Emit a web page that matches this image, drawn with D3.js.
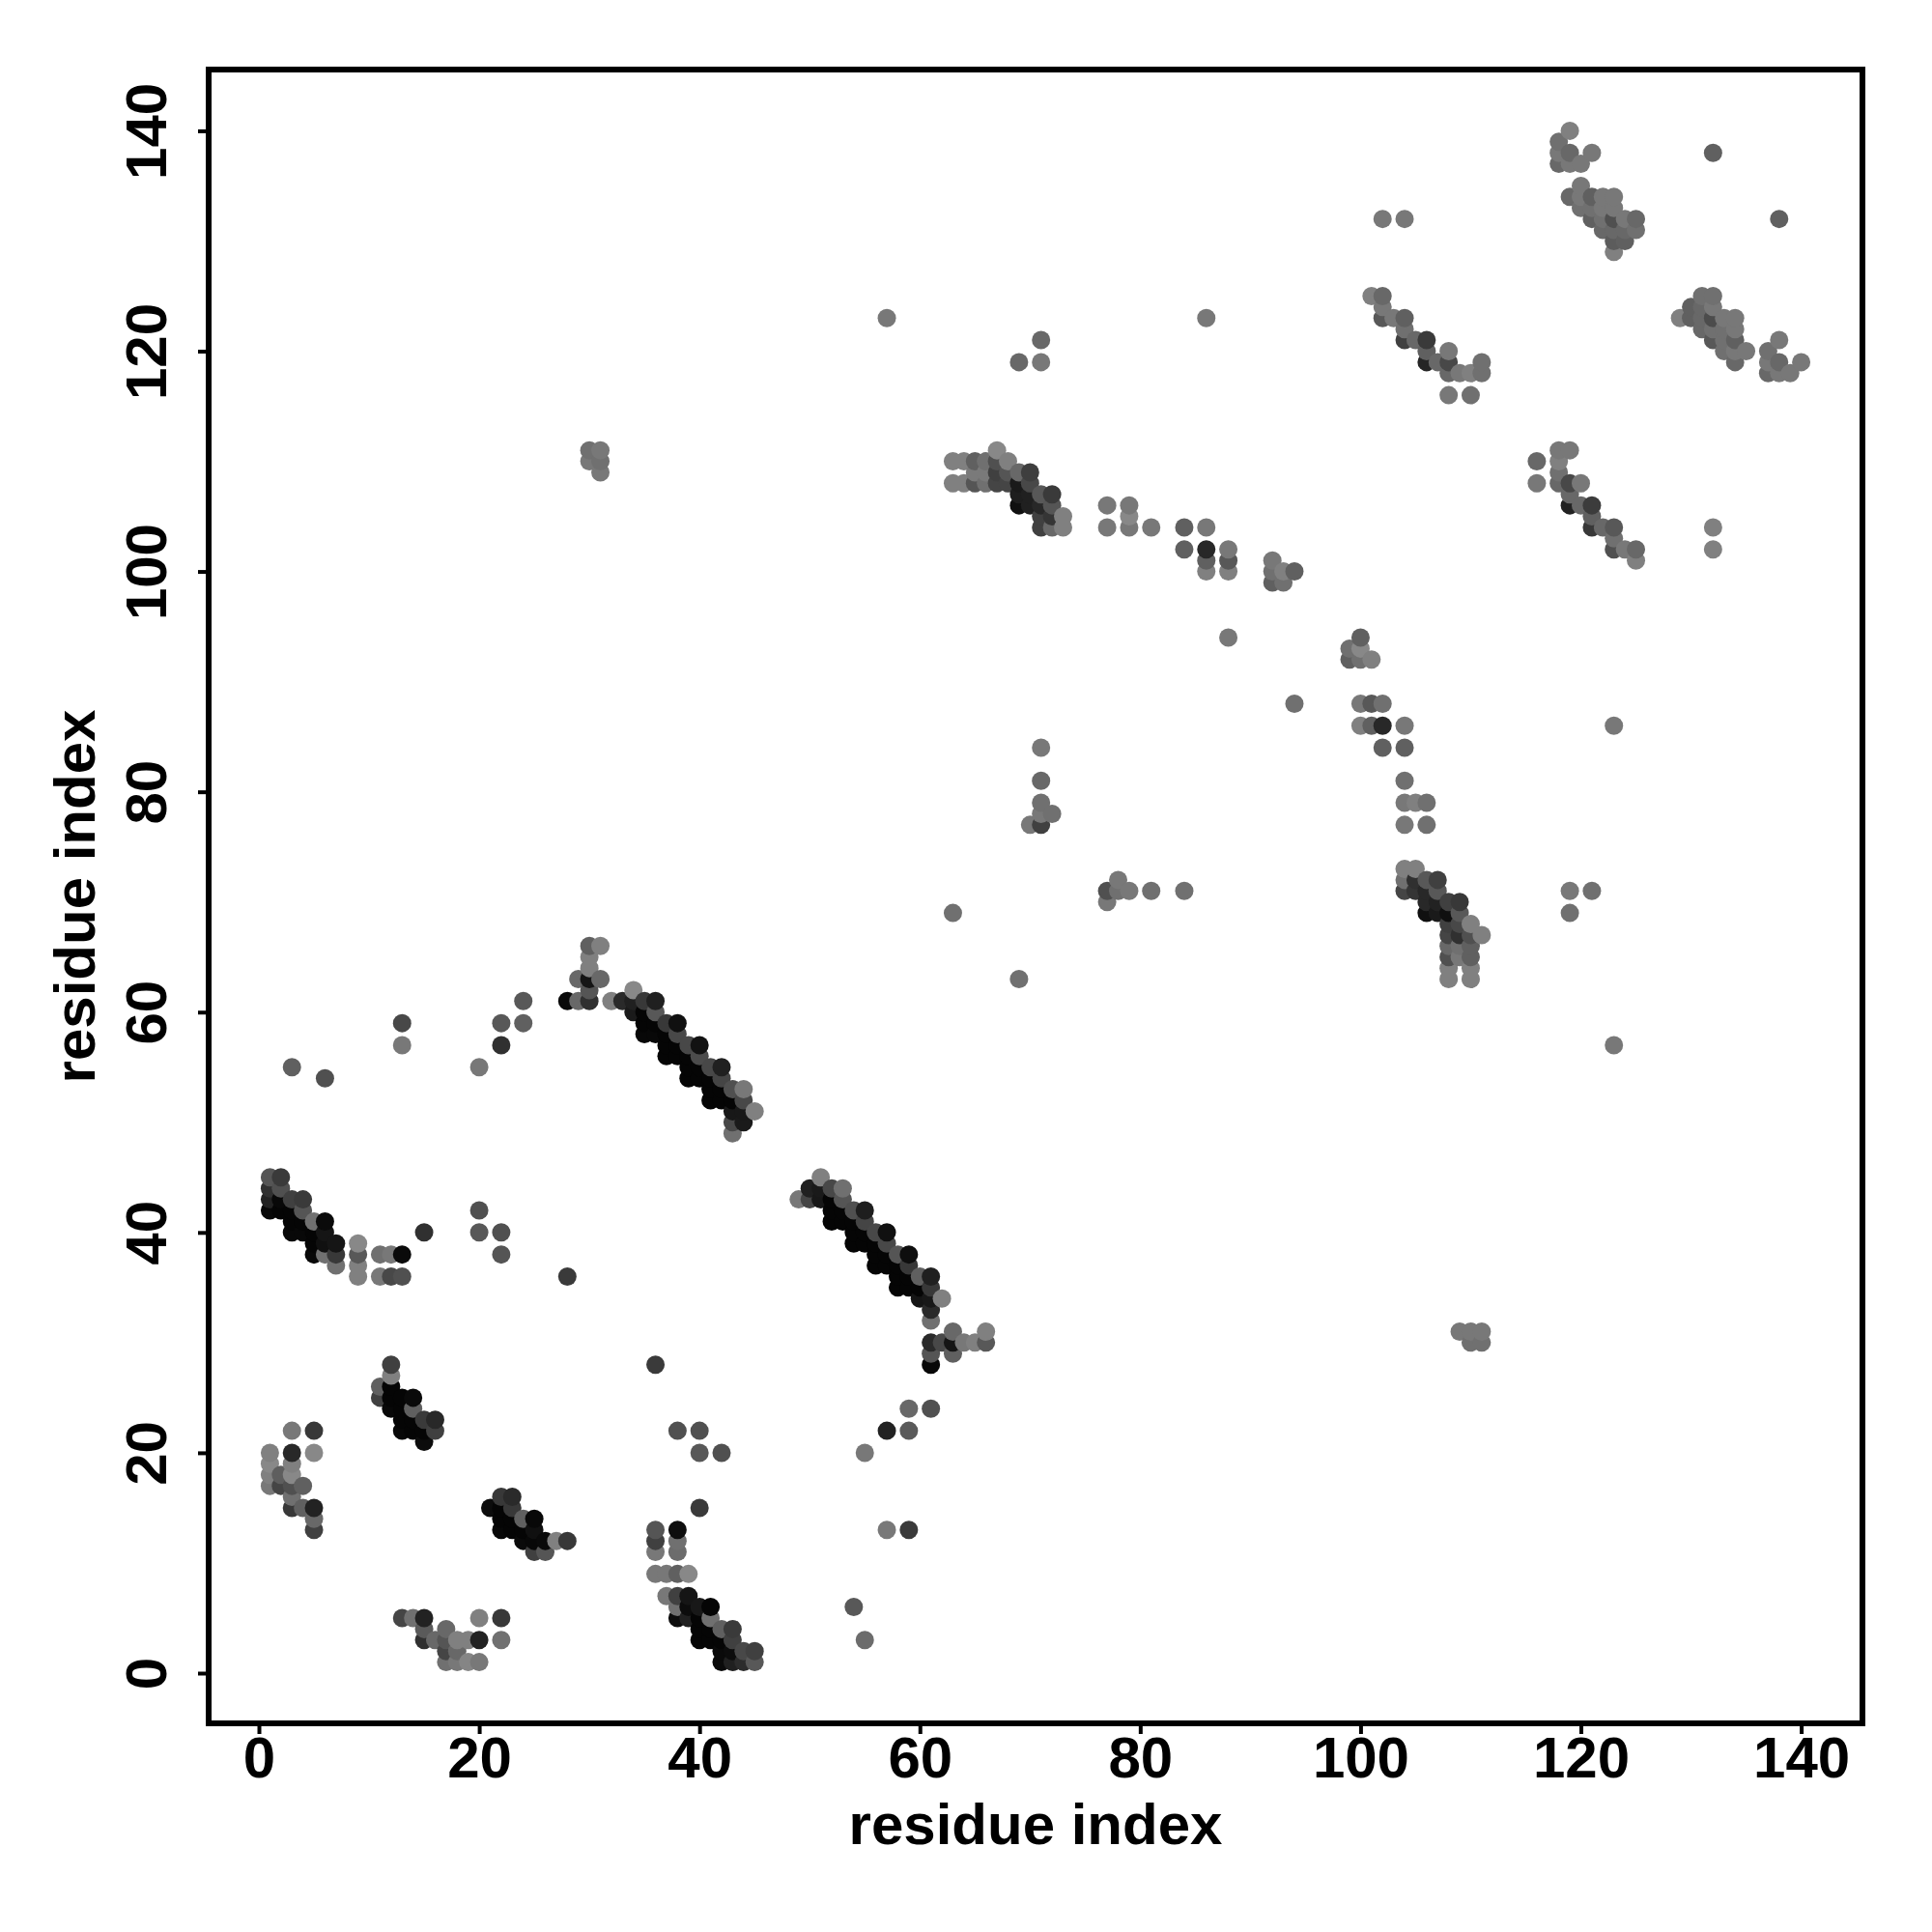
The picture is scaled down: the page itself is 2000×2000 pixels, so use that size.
<!DOCTYPE html>
<html><head><meta charset="utf-8">
<script src="https://cdn.jsdelivr.net/npm/d3@7"></script>
<style>html,body{margin:0;padding:0;background:#fff}svg{display:block}</style>
</head><body><svg id="c" width="2000" height="2000"></svg>
<script>
// each contact: [residue i, residue j, shade (0 = black, 255 = white)]
const helixA=[[1,45,0x55],[2,45,0x3a],[1,44,0x30],[1,43,0x22],[1,42,0x08],[2,44,0x50],[2,43,0x08],[2,42,0x05],[3,43,0x40],[3,42,5],[3,41,5],[3,40,8],[4,43,0x3a],[4,42,0x55],[4,41,5],[4,40,8],[5,41,0x70],[5,40,5],[5,39,5],[5,38,8],[6,41,0x0a],[6,40,0x15],[6,39,0x10],[6,38,0x70],[7,39,0x15],[7,38,0x38],[7,37,0x70]];
const patchA=[[9,39,0x88],[9,38,0x58],[9,37,0x80],[9,36,0x80],[11,38,0x70],[11,36,0x78],[12,38,0x78],[12,36,0x48],[13,38,0x0a],[13,36,0x50],[15,40,0x30],[20,42,0x50],[20,40,0x58],[22,40,0x50],[22,38,0x55],[28,36,0x3a]];
const helixB=[[12,28,0x40],[12,27,0x80],[11,26,0x60],[11,25,0x40],[12,26,5],[12,25,5],[12,24,8],[13,25,5],[13,24,5],[13,23,5],[13,22,8],[14,25,0x0a],[14,24,0x60],[14,23,5],[14,22,5],[15,23,0x3a],[15,22,5],[15,21,0x0c],[16,23,0x28],[16,22,0x40]];
const patchC=[[3,22,0x78],[5,22,0x38],[1,20,0x80],[3,20,0x28],[5,20,0x88],[1,19,0x88],[1,18,0x80],[1,17,0x78],[2,18,0x5e],[2,17,0x45],[3,19,0x80],[3,18,0x88],[3,17,0x50],[3,16,0x70],[3,15,0x38],[4,17,0x60],[4,15,0x60],[5,15,0x22],[5,14,0x68],[5,13,0x40]];
const helixD=[[21,15,0x0c],[22,16,0x38],[23,16,0x2a],[22,15,5],[22,14,5],[22,13,8],[23,15,0x38],[23,14,5],[23,13,5],[24,14,0x60],[24,13,5],[24,12,0x0a],[25,14,8],[25,13,0x10],[25,12,8],[25,11,0x40],[26,12,0x0a],[26,11,0x55],[27,12,0x80],[28,12,0x38]];
const patchE=[[13,5,0x45],[14,5,0x70],[15,5,0x22],[15,4,0x5a],[15,3,0x30],[16,3,0x68],[17,4,0x68],[17,3,0x55],[17,2,0x45],[17,1,0x70],[18,3,0x80],[18,2,0x68],[18,1,0x78],[19,3,0x80],[19,1,0x85],[20,5,0x80],[20,3,0x22],[20,1,0x78],[22,5,0x38],[22,3,0x70]];
const patchF=[[36,28,0x3a],[38,22,0x50],[40,22,0x50],[40,20,0x58],[42,20,0x50],[40,15,0x3a],[36,13,0x55],[36,12,0x40],[36,11,0x78],[38,13,0x0e],[38,12,0x70],[38,11,0x6c],[36,9,0x78],[37,9,0x78],[38,9,0x60],[39,9,0x88],[54,6,0x58],[55,3,0x6c],[55,20,0x78],[57,22,0x22],[59,22,0x5a],[59,24,0x68],[61,24,0x50],[57,13,0x78],[59,13,0x3a]];
const helixG=[[37,7,0x78],[38,7,0x40],[39,7,0x15],[38,6,0x70],[39,6,0x0c],[40,6,0x18],[41,6,5],[38,5,0x0c],[39,5,0x20],[40,5,5],[41,5,0x70],[40,4,5],[41,4,5],[42,4,0x60],[43,4,0x3a],[40,3,5],[41,3,5],[42,3,5],[43,3,0x40],[42,2,0x0a],[43,2,0x0c],[44,2,0x48],[45,2,0x40],[42,1,0x0a],[43,1,0x20],[44,1,0x2c],[45,1,0x58]];
const patchH=[[28,61,0x0a],[29,61,0x68],[30,61,0x30],[29,63,0x68],[30,63,0x15],[31,63,0x68],[30,62,0x55],[30,64,0x80],[30,65,0x80],[30,66,0x60],[31,66,0x80],[3,55,0x60],[6,54,0x50],[13,59,0x48],[13,57,0x78],[20,55,0x78],[22,59,0x58],[22,57,0x30],[24,61,0x58],[24,59,0x60]];
const helixI=[[32,61,0x80],[33,61,0x2a],[34,62,0x88],[34,61,0x20],[35,61,0x38],[36,61,0x20],[34,60,0x1a],[35,60,5],[36,60,0x58],[35,59,5],[36,59,5],[37,59,0x38],[38,59,0x10],[35,58,8],[36,58,8],[37,58,5],[38,58,0x48],[37,57,5],[38,57,5],[39,57,0x48],[40,57,0x12],[37,56,5],[38,56,5],[39,56,5],[40,56,0x4c],[39,55,5],[40,55,5],[41,55,0x48],[42,55,0x20],[39,54,5],[40,54,5],[41,54,5],[42,54,0x45],[41,53,5],[42,53,5],[43,53,0x50],[44,53,0x78],[41,52,5],[42,52,5],[43,52,5],[44,52,0x48],[43,51,0x18],[44,51,0x18],[45,51,0x80],[43,50,0x48],[44,50,0x1a],[43,49,0x70]];
const helixJ=[[51,45,0x80],[50,44,0x20],[51,44,0x1a],[52,44,0x48],[53,44,0x70],[49,43,0x78],[50,43,0x45],[51,43,0x18],[52,43,5],[53,43,0x55],[52,42,5],[53,42,5],[54,42,0x50],[55,42,0x1e],[52,41,5],[53,41,5],[54,41,5],[55,41,0x45],[54,40,5],[55,40,5],[56,40,0x48],[57,40,0x10],[54,39,5],[55,39,5],[56,39,5],[57,39,0x48],[56,38,5],[57,38,5],[58,38,0x55],[59,38,0x0e],[56,37,5],[57,37,5],[58,37,5],[59,37,0x38],[58,36,5],[59,36,5],[60,36,0x60],[61,36,0x20],[58,35,5],[59,35,5],[60,35,5],[61,35,0x38],[60,34,0x15],[61,34,0x18],[62,34,0x80],[61,33,0x2a],[61,32,0x70]];
const patchK=[[61,30,0x2a],[61,29,0x55],[61,28,0x08],[62,30,0x48],[63,31,0x68],[63,30,0x15],[63,29,0x60],[64,30,0x78],[65,30,0x80],[66,31,0x80],[66,30,0x58]];
const helixL=[[63,110,0x80],[64,110,0x80],[65,110,0x60],[66,110,0x70],[67,111,0x88],[67,110,0x50],[68,110,0x80],[65,109,0x7a],[66,109,0x7a],[67,109,0x40],[68,109,0x55],[69,109,0x68],[70,109,0x3e],[63,108,0x80],[64,108,0x80],[65,108,0x55],[66,108,0x70],[67,108,0x45],[68,108,0x45],[69,108,0x1a],[70,108,0x48],[69,107,0x1e],[70,107,0x20],[71,107,0x58],[72,107,0x3a],[69,106,0x10],[70,106,0x20],[71,106,0x28],[72,106,0x55],[71,105,0x40],[72,105,0x35],[73,105,0x80],[71,104,0x40],[72,104,0x68],[73,104,0x80]];
const patchM=[[77,106,0x78],[79,106,0x78],[79,105,0x88],[77,104,0x78],[79,104,0x78],[81,104,0x78],[84,104,0x60],[86,104,0x78],[84,102,0x60],[86,102,0x28],[88,102,0x78],[86,101,0x60],[88,101,0x58],[86,100,0x80],[88,100,0x80],[92,101,0x78],[92,100,0x70],[93,100,0x80],[94,100,0x60],[92,99,0x60],[93,99,0x70],[88,94,0x78]];
const patchN=[[100,94,0x60],[99,93,0x70],[100,93,0x88],[99,92,0x60],[100,92,0x70],[101,92,0x80],[100,88,0x78],[101,88,0x58],[102,88,0x70],[100,86,0x80],[101,86,0x60],[102,86,0x28],[104,86,0x78],[102,84,0x60],[104,84,0x60],[104,81,0x70],[104,79,0x78],[105,79,0x80],[106,79,0x70],[104,77,0x78],[106,77,0x70]];
const helixO=[[104,73,0x80],[105,73,0x80],[104,72,0x70],[105,72,0x30],[106,72,0x58],[107,72,0x40],[104,71,0x45],[105,71,0x35],[106,71,0x28],[107,71,0x58],[106,70,0x28],[107,70,0x22],[108,70,0x40],[109,70,0x38],[106,69,0x10],[107,69,0x1a],[108,69,0x10],[109,69,0x58],[108,68,0x40],[109,68,0x48],[110,68,0x80],[108,67,0x45],[109,67,0x30],[110,67,0x50],[111,67,0x80],[108,66,0x68],[109,66,0x70],[110,66,0x60],[108,65,0x50],[109,65,0x78],[110,65,0x60],[108,64,0x80],[110,64,0x80],[108,63,0x80],[110,63,0x80]];
const isolated=[[71,84,0x78],[71,81,0x68],[71,79,0x70],[71,78,0x78],[72,78,0x70],[70,77,0x78],[71,77,0x40],[57,123,0x78],[71,121,0x68],[69,119,0x68],[71,119,0x78],[86,123,0x78],[30,111,0x70],[31,111,0x78],[30,110,0x78],[31,110,0x70],[31,109,0x78],[63,69,0x70],[69,63,0x70],[77,71,0x50],[77,70,0x78],[78,72,0x78],[78,71,0x70],[79,71,0x78],[81,71,0x70],[84,71,0x70],[94,88,0x70],[123,86,0x78],[119,71,0x78],[121,71,0x70],[119,69,0x70],[123,57,0x78],[109,31,0x78],[110,31,0x78],[111,31,0x78],[110,30,0x70],[111,30,0x70],[132,104,0x80],[132,102,0x80],[132,138,0x60],[138,132,0x60],[102,132,0x78],[104,132,0x78]];
const helixP=[[119,140,0x80],[118,139,0x70],[118,138,0x78],[119,138,0x68],[121,138,0x78],[118,137,0x68],[119,137,0x78],[120,137,0x78],[120,135,0x78],[119,134,0x68],[120,134,0x78],[121,134,0x60],[122,134,0x78],[123,134,0x78],[120,133,0x70],[121,133,0x70],[122,133,0x78],[123,133,0x78],[121,132,0x60],[122,132,0x70],[123,132,0x50],[124,132,0x78],[125,132,0x68],[122,131,0x68],[123,131,0x68],[124,131,0x68],[125,131,0x70],[123,130,0x5c],[124,130,0x60],[123,129,0x80]];
const helixQ=[[129,123,0x80],[131,125,0x70],[132,125,0x70],[130,124,0x60],[131,124,0x68],[132,124,0x78],[130,123,0x60],[131,123,0x68],[132,123,0x4c],[133,123,0x78],[134,123,0x78],[131,122,0x68],[132,122,0x70],[133,122,0x70],[134,122,0x78],[132,121,0x58],[133,121,0x70],[134,121,0x60],[133,120,0x70],[134,120,0x78],[135,120,0x78],[134,119,0x68],[138,121,0x78],[137,120,0x70],[137,119,0x78],[138,119,0x68],[140,119,0x78],[137,118,0x68],[138,118,0x78],[139,118,0x78]];
const helixR=[[101,125,0x80],[102,125,0x68],[102,124,0x78],[102,123,0x58],[103,123,0x78],[104,123,0x60],[104,122,0x70],[104,121,0x40],[105,121,0x68],[106,121,0x3a],[106,120,0x60],[106,119,0x25],[107,119,0x68],[108,119,0x48],[108,120,0x78],[108,118,0x68],[109,118,0x78],[110,118,0x80],[111,118,0x70],[111,119,0x70],[108,116,0x78],[110,116,0x70]];
const helixS=[[116,110,0x68],[116,108,0x78],[118,111,0x78],[119,111,0x78],[118,110,0x80],[118,109,0x70],[118,108,0x68],[119,108,0x48],[120,108,0x78],[119,107,0x68],[119,106,0x22],[120,106,0x68],[121,106,0x3c],[121,105,0x60],[121,104,0x38],[122,104,0x68],[123,104,0x58],[123,103,0x70],[123,102,0x50],[124,102,0x78],[125,102,0x68],[125,101,0x80]];
const xTicks=[0,20,40,60,80,100,120,140];
const yTicks=[0,20,40,60,80,100,120,140];
const xTitle="residue index";
const yTitle="residue index";

const contacts=[].concat(helixA,patchA,helixB,patchC,helixD,patchE,patchF,helixG,patchH,helixI,helixJ,patchK,helixL,patchM,patchN,helixO,isolated,helixP,helixQ,helixR,helixS)
  .sort((a,b)=>d3.ascending(a[0],b[0])||d3.ascending(a[1],b[1]));

const L=216,R=1928,T=72,B=1784,FONT="'Liberation Sans',Arial,sans-serif";
const x=d3.scaleLinear().domain([-4.56,145.56]).range([L,R]);
const y=d3.scaleLinear().domain([-4.56,145.56]).range([B,T]);
const shade=d3.scaleLinear().domain([0,255]).range(["#000","#fff"]);
const svg=d3.select("#c");
svg.append("g").selectAll("circle").data(contacts).join("circle")
  .attr("cx",d=>x(d[0])).attr("cy",d=>y(d[1])).attr("r",9.5).attr("fill",d=>shade(d[2]));
svg.append("rect").attr("x",L).attr("y",T).attr("width",R-L).attr("height",B-T)
  .attr("fill","none").attr("stroke","#000").attr("stroke-width",6);
const ax=svg.append("g").attr("transform",`translate(0,${B})`)
  .call(d3.axisBottom(x).tickValues(xTicks).tickSize(11).tickPadding(0));
const ay=svg.append("g").attr("transform",`translate(${L},0)`)
  .call(d3.axisLeft(y).tickValues(yTicks).tickSize(11).tickPadding(0));
[ax,ay].forEach(g=>{g.select(".domain").remove();
  g.selectAll(".tick line").attr("stroke","#000").attr("stroke-width",4);
  g.selectAll("text").attr("font-family",FONT).attr("font-weight","bold").attr("font-size",60).attr("fill","#000");});
ax.selectAll("text").attr("y",0).attr("dy",0).attr("transform",`translate(0,${1840-B})`);
ay.selectAll("text").attr("x",0).attr("dy",0).attr("text-anchor","middle")
  .attr("transform",`translate(${172-L},0) rotate(-90)`);
svg.append("text").attr("x",(L+R)/2).attr("y",1909).attr("text-anchor","middle")
  .attr("font-family",FONT).attr("font-weight","bold").attr("font-size",60).text(xTitle);
svg.append("text").attr("transform",`translate(98,${(T+B)/2}) rotate(-90)`).attr("text-anchor","middle")
  .attr("font-family",FONT).attr("font-weight","bold").attr("font-size",60).text(yTitle);
</script></body></html>
